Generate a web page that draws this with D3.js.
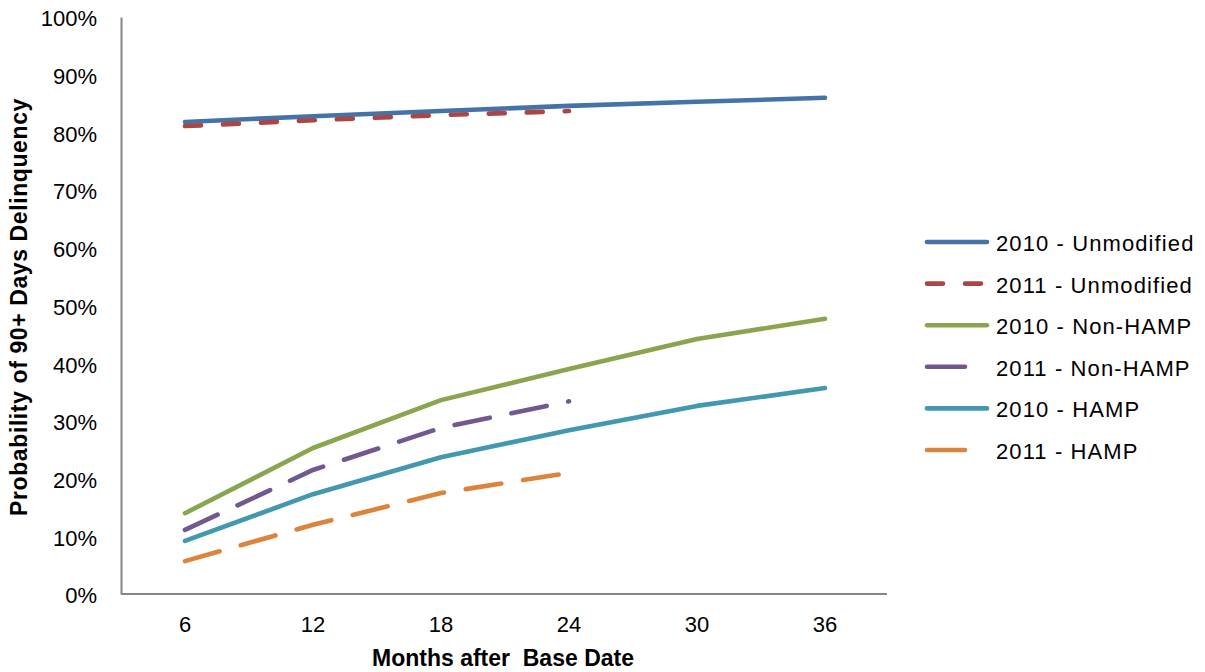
<!DOCTYPE html>
<html><head><meta charset="utf-8">
<script src="https://cdn.jsdelivr.net/npm/d3@7"></script>
<style>body{margin:0;background:#fff}svg{display:block;font-family:"Liberation Sans",Arial,sans-serif}</style>
</head><body>
<script>
const months = ["6","12","18","24","30","36"];
const yTicks = [0,10,20,30,40,50,60,70,80,90,100];
const seriesNames = ["2010 - Unmodified","2011 - Unmodified","2010 - Non-HAMP","2011 - Non-HAMP","2010 - HAMP","2011 - HAMP"];
const unmod2010 = [81.8,82.8,83.7,84.6,85.3,86.0];
const unmod2011 = [81.1,82.1,83.0,83.7];
const nonhamp2010 = [14.0,25.3,33.6,39.0,44.2,47.7];
const nonhamp2011 = [11.1,21.5,28.8,33.4];
const hamp2010 = [9.2,17.3,23.7,28.4,32.6,35.7];
const hamp2011 = [5.7,12.0,17.5,21.0];
const colors = ["#4572A7","#AA4643","#89A54E","#71588F","#4198AF","#DB843D"];
const dashes = [null,"16,22",null,"36,22",null,"36,22"];
const legendDashes = [null,"16,22",null,"38,100",null,"38,100"];
const allSeries = [unmod2010,unmod2011,nonhamp2010,nonhamp2011,hamp2010,hamp2011];

const W=1205,H=672;
const svg=d3.select("body").append("svg").attr("width",W).attr("height",H);
const mLeft=121, mRight=889, mTop=17, mBottom=594;
const x=d3.scaleBand().domain(months).range([mLeft,mRight]);
const y=d3.scaleLinear().domain([0,100]).range([mBottom,mTop]);

// axes
const gy=svg.append("g").attr("transform",`translate(${mLeft},0)`)
  .call(d3.axisLeft(y).tickValues(yTicks).tickSize(0).tickPadding(24).tickFormat(d=>d+"%"));
gy.select(".domain").attr("stroke","#868686").attr("stroke-width",2);
gy.selectAll("text").attr("font-size",22).attr("fill","#000")
  .attr("font-family","Liberation Sans, Arial").attr("dy","0.4em");

const gx=svg.append("g").attr("transform",`translate(0,${mBottom})`)
  .call(d3.axisBottom(x).tickSize(0));
gx.select(".domain").attr("stroke","#868686").attr("stroke-width",2).attr("d",`M${mLeft},0H${mRight-2}`);
gx.selectAll("text").attr("font-size",22).attr("fill","#000")
  .attr("font-family","Liberation Sans, Arial").attr("y",38).attr("dy",0);

// titles
svg.append("text").attr("x",503).attr("y",666).attr("text-anchor","middle")
  .attr("font-size",23).attr("font-weight","bold").style("white-space","pre")
  .text("Months after  Base Date");
svg.append("text").attr("transform","translate(27,307) rotate(-90)").attr("text-anchor","middle")
  .attr("font-size",23).attr("font-weight","bold").attr("letter-spacing",0.6)
  .text("Probability of 90+ Days Delinquency");

// lines
const line=d3.line().x((d,i)=>x(months[i])+x.bandwidth()/2).y(d=>y(d));
allSeries.forEach((s,k)=>{
  svg.append("path").datum(s).attr("d",line).attr("fill","none")
    .attr("stroke",colors[k]).attr("stroke-width",4.6)
    .attr("stroke-linecap","round").attr("stroke-linejoin","round")
    .attr("stroke-dasharray",dashes[k]);
});

// legend
const lg=svg.append("g");
seriesNames.forEach((n,k)=>{
  const yy=242+k*41.6;
  lg.append("line").attr("x1",927).attr("x2",987).attr("y1",yy).attr("y2",yy)
    .attr("stroke",colors[k]).attr("stroke-width",4.6).attr("stroke-linecap","round")
    .attr("stroke-dasharray",legendDashes[k]);
  lg.append("text").attr("x",996).attr("y",yy+9).attr("font-size",22).attr("letter-spacing",1.1).text(n);
});
</script>
</body></html>
